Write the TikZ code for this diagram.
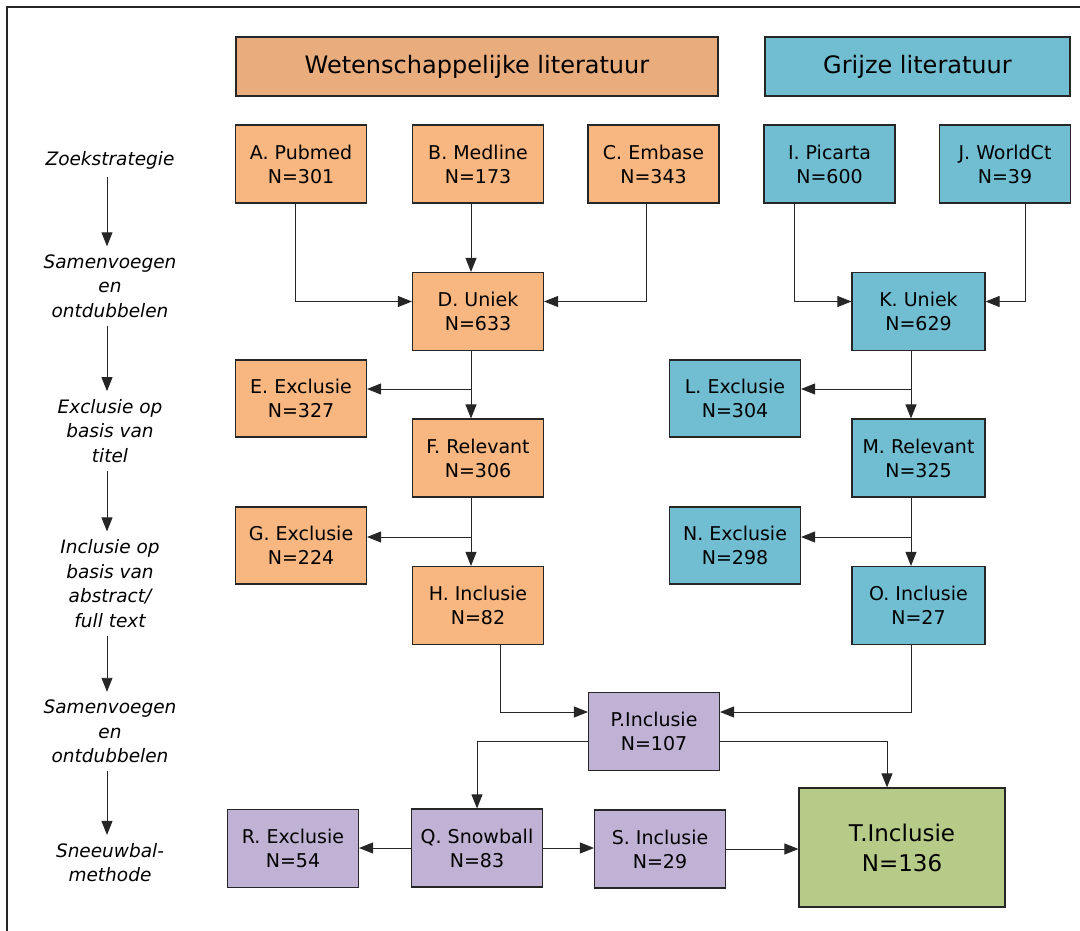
\documentclass[tikz,border=0pt]{standalone}
\usepackage{fontspec}
\setmainfont{DejaVu Sans}
\usetikzlibrary{arrows.meta}
\definecolor{orH}{RGB}{233,172,124}
\definecolor{orB}{RGB}{248,182,128}
\definecolor{bl}{RGB}{113,190,210}
\definecolor{pu}{RGB}{192,178,212}
\definecolor{gr}{RGB}{182,203,136}
\begin{document}
\begin{tikzpicture}[x=1pt,y=-1pt,
  box/.style={draw=black!85, line width=1.2pt, align=center, inner sep=0pt,
    minimum width=131pt, minimum height=78pt, font=\fontsize{19}{24}\selectfont},
  ob/.style={box, fill=orB},
  bb/.style={box, fill=bl},
  pb/.style={box, fill=pu},
  hd/.style={box, minimum height=59pt, font=\fontsize{24}{28}\selectfont},
  lab/.style={align=center, inner sep=0pt, font=\fontsize{18.5}{24.5}\selectfont\itshape},
  arr/.style={draw=black!85, line width=0.9pt, -{Triangle[length=14pt,width=11pt]}}]
\useasboundingbox (0,0) rectangle (1080,931);
\draw[line width=1.2pt, black!85] (7,931) -- (7,7) -- (1080,7);
% headers
\node[hd, fill=orH, minimum width=482pt] (HW) at (477,66.5) {Wetenschappelijke literatuur};
\node[hd, fill=bl, minimum width=305pt] (HG) at (917.5,66.5) {Grijze literatuur};
% row 1
\node[ob] (A) at (301,164) {A. Pubmed\\N=301};
\node[ob] (B) at (478,164) {B. Medline\\N=173};
\node[ob] (C) at (653.5,164) {C. Embase\\N=343};
\node[bb] (I) at (829.5,164) {I. Picarta\\N=600};
\node[bb] (J) at (1005,164) {J. WorldCt\\N=39};
% row 2
\node[ob] (D) at (478,311.5) {D. Uniek\\N=633};
\node[bb, minimum width=133pt] (K) at (918.5,311.5) {K. Uniek\\N=629};
% row 3
\node[ob, minimum height=77pt] (E) at (301,398.5) {E. Exclusie\\N=327};
\node[ob] (F) at (478,458) {F. Relevant\\N=306};
\node[bb, minimum height=77pt] (L) at (735,398.5) {L. Exclusie\\N=304};
\node[bb, minimum width=133pt] (M) at (918.5,458) {M. Relevant\\N=325};
% row 4
\node[ob, minimum height=77pt] (G) at (301,545.5) {G. Exclusie\\N=224};
\node[ob] (H) at (478,605.5) {H. Inclusie\\N=82};
\node[bb, minimum height=77pt] (N) at (735,545.5) {N. Exclusie\\N=298};
\node[bb, minimum width=133pt] (O) at (918.5,605.5) {O. Inclusie\\N=27};
% bottom
\node[pb] (P) at (654,731.5) {P.Inclusie\\N=107};
\node[pb] (R) at (293,848.5) {R. Exclusie\\N=54};
\node[pb] (Q) at (477,848) {Q. Snowball\\N=83};
\node[pb] (S) at (660,849) {S. Inclusie\\N=29};
\node[box, fill=gr, minimum width=206pt, minimum height=119pt, font=\fontsize{23}{30}\selectfont] (T) at (902,847.5) {T.Inclusie\\N=136};
% left column
\node[lab] (L1) at (110,160) {Zoekstrategie};
\node[lab] (L2) at (110,286) {Samenvoegen\\en\\ontdubbelen};
\node[lab] (L3) at (110,431) {Exclusie op\\basis van\\titel};
\node[lab] (L4) at (110,583.5) {Inclusie op\\basis van\\abstract/\\full text};
\node[lab] (L5) at (110,731.5) {Samenvoegen\\en\\ontdubbelen};
\node[lab] (L6) at (110,862.5) {Sneeuwbal-\\methode};
\foreach \a/\b in {L1/L2,L2/L3,L3/L4,L4/L5,L5/L6}
  \draw[arr, shorten <=8pt, shorten >=8pt] ([xshift=-3pt]\a.south) -- ([xshift=-3pt]\b.north);
% connectors wetenschappelijk
\draw[arr] ([xshift=-6pt]A.south) |- ([yshift=10pt]D.west);
\draw[arr] ([xshift=-7pt]B.south) -- ([xshift=-7pt]D.north);
\draw[arr] ([xshift=-7.5pt]C.south) |- ([yshift=10pt]D.east);
\draw[arr] ([xshift=-7pt]D.south) -- ([xshift=-7pt]F.north);
\draw[arr] ([xshift=-7pt]D.south) |- ([yshift=9.5pt]E.east);
\draw[arr] ([xshift=-7pt]F.south) -- ([xshift=-7pt]H.north);
\draw[arr] ([xshift=-7pt]F.south) |- ([yshift=8.5pt]G.east);
% connectors grijs
\draw[arr] ([xshift=-35.5pt]I.south) |- ([yshift=10pt]K.west);
\draw[arr] ([xshift=20pt]J.south) |- ([yshift=10pt]K.east);
\draw[arr] ([xshift=-7.5pt]K.south) -- ([xshift=-7.5pt]M.north);
\draw[arr] ([xshift=-7.5pt]K.south) |- ([yshift=9.5pt]L.east);
\draw[arr] ([xshift=-7.5pt]M.south) -- ([xshift=-7.5pt]O.north);
\draw[arr] ([xshift=-7.5pt]M.south) |- ([yshift=8.5pt]N.east);
% merge
\draw[arr] ([xshift=22pt]H.south) |- ([yshift=19.5pt]P.west);
\draw[arr] ([xshift=-7.5pt]O.south) |- ([yshift=19.5pt]P.east);
\draw[arr] ([yshift=-9.5pt]P.west) -| (Q.north);
\draw[arr] ([yshift=-9.5pt]P.east) -| ([xshift=-15pt]T.north);
\draw[arr] (Q.west) -- (Q.west -| R.east);
\draw[arr] (Q.east) -- (Q.east -| S.west);
\draw[arr] (S.east) -- (S.east -| T.west);
\end{tikzpicture}
\end{document}
